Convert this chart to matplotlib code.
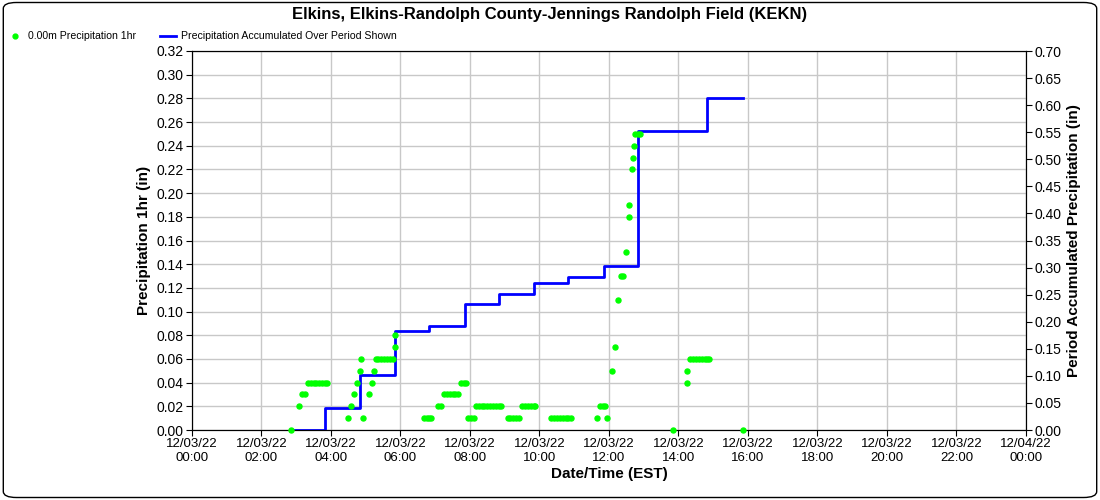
import matplotlib
matplotlib.use("Agg")
import matplotlib.pyplot as plt
from matplotlib.patches import FancyBboxPatch
from matplotlib.lines import Line2D
import numpy as np

plt.rcParams['font.family'] = ['Liberation Sans', 'DejaVu Sans']

# hourly precip observations (time of day, inches)
precip_times = ["02:51", "03:05", "03:10", "03:15",
                "03:20", "03:25", "03:30", "03:35", "03:40", "03:45", "03:50", "03:54",
                "04:30", "04:35", "04:40", "04:45", "04:50", "04:52", "04:56",
                "05:06", "05:11", "05:15",
                "05:17", "05:22", "05:27", "05:32", "05:37", "05:42", "05:47",
                "05:50", "05:51",
                "06:40", "06:45", "06:50", "06:53",
                "07:05", "07:10",
                "07:15", "07:20", "07:25", "07:30", "07:35", "07:40",
                "07:45", "07:50", "07:53",
                "07:57", "08:02", "08:07",
                "08:10", "08:15", "08:20", "08:25", "08:30", "08:35", "08:40", "08:45", "08:50", "08:54",
                "09:05", "09:10", "09:15", "09:20", "09:25",
                "09:30", "09:35", "09:40", "09:45", "09:50", "09:53",
                "10:20", "10:25", "10:30", "10:35", "10:40", "10:45", "10:50", "10:54",
                "11:40", "11:45", "11:50", "11:53", "11:56",
                "12:06", "12:11", "12:16", "12:20", "12:25", "12:30", "12:34", "12:35",
                "12:40", "12:42", "12:44", "12:45", "12:50", "12:54",
                "13:51",
                "14:15", "14:15",
                "14:20", "14:25", "14:30", "14:35", "14:40", "14:45", "14:50", "14:53",
                "15:52"]
precip_vals = [0.00, 0.02, 0.03, 0.03,
               0.04, 0.04, 0.04, 0.04, 0.04, 0.04, 0.04, 0.04,
               0.01, 0.02, 0.03, 0.04, 0.05, 0.06, 0.01,
               0.03, 0.04, 0.05,
               0.06, 0.06, 0.06, 0.06, 0.06, 0.06, 0.06,
               0.07, 0.08,
               0.01, 0.01, 0.01, 0.01,
               0.02, 0.02,
               0.03, 0.03, 0.03, 0.03, 0.03, 0.03,
               0.04, 0.04, 0.04,
               0.01, 0.01, 0.01,
               0.02, 0.02, 0.02, 0.02, 0.02, 0.02, 0.02, 0.02, 0.02, 0.02,
               0.01, 0.01, 0.01, 0.01, 0.01,
               0.02, 0.02, 0.02, 0.02, 0.02, 0.02,
               0.01, 0.01, 0.01, 0.01, 0.01, 0.01, 0.01, 0.01,
               0.01, 0.02, 0.02, 0.02, 0.01,
               0.05, 0.07, 0.11, 0.13, 0.13, 0.15, 0.18, 0.19,
               0.22, 0.23, 0.24, 0.25, 0.25, 0.25,
               0.00,
               0.04, 0.05,
               0.06, 0.06, 0.06, 0.06, 0.06, 0.06, 0.06, 0.06,
               0.00]

# accumulated precip (step changes)
accum_times = ["02:49", "03:50", "04:51", "05:50", "06:50", "07:52", "08:50",
               "09:50", "10:50", "11:52", "12:51", "14:50", "15:52"]
accum_vals = [0.00, 0.041, 0.102, 0.182, 0.192, 0.232, 0.252,
              0.272, 0.283, 0.303, 0.553, 0.614, 0.614]

tick_labels = ["12/03/22\n00:00", "12/03/22\n02:00", "12/03/22\n04:00", "12/03/22\n06:00",
               "12/03/22\n08:00", "12/03/22\n10:00", "12/03/22\n12:00", "12/03/22\n14:00",
               "12/03/22\n16:00", "12/03/22\n18:00", "12/03/22\n20:00", "12/03/22\n22:00",
               "12/04/22\n00:00"]


def to_hours(s):
    h, m = s.split(":")
    return int(h) + int(m) / 60.0


px = [to_hours(t) for t in precip_times]
ax_t = [to_hours(t) for t in accum_times]

fig = plt.figure(figsize=(11, 5), dpi=100)
ax = fig.add_axes([0.1745, 0.14, 0.7582, 0.758])
ax2 = ax.twinx()   # accumulated line, right axis
ax3 = ax.twinx()   # dots on top, same scale as left axis

ax2.plot(ax_t, accum_vals, '-', color='#0000ff', lw=2, drawstyle='steps-post')
ax3.plot(px, precip_vals, 'o', color='#00ff00', markersize=3.6, clip_on=False)

ax.set_xlim(0, 24)
ax.set_xticks(np.arange(0, 25, 2))
ax.set_xticklabels(tick_labels, fontsize=9.5)
ax.set_ylim(0, 0.32)
ax.set_yticks(np.arange(0, 0.321, 0.02))
ax.set_yticklabels(["%.2f" % v for v in np.arange(0, 0.321, 0.02)], fontsize=10)
ax3.set_ylim(0, 0.32)
ax3.set_yticks([])
ax3.axis('off')
ax2.set_ylim(0, 0.70)
ax2.set_yticks(np.arange(0, 0.701, 0.05))
ax2.set_yticklabels(["%.2f" % v for v in np.arange(0, 0.701, 0.05)], fontsize=10)

ax.grid(True, color='#c8c8c8', lw=1)
ax.set_axisbelow(True)
ax.tick_params(length=4, pad=2)
ax2.tick_params(length=4, pad=2)

ax.set_xlabel("Date/Time (EST)", fontsize=11, fontweight='bold', labelpad=2)
ax.set_ylabel("Precipitation 1hr (in)", fontsize=11, fontweight='bold')
ax2.set_ylabel("Period Accumulated Precipitation (in)", fontsize=11, fontweight='bold')

fig.text(0.5, 0.972, "Elkins, Elkins-Randolph County-Jennings Randolph Field (KEKN)",
         ha='center', va='center', fontsize=12, fontweight='bold')

handles = [Line2D([], [], marker='o', color='#00ff00', ls='none', markersize=3.5),
           Line2D([], [], color='#0000ff', lw=2)]
fig.legend(handles, ["0.00m Precipitation 1hr", "Precipitation Accumulated Over Period Shown"],
           loc='upper left', bbox_to_anchor=(0.0068, 0.9375), ncol=2, frameon=False,
           fontsize=7.6, handlelength=1.45, columnspacing=2.3, handletextpad=0.5,
           borderpad=0, borderaxespad=0)

fig.patches.append(FancyBboxPatch((0.003, 0.005), 0.994, 0.99,
                                  boxstyle="round,pad=0,rounding_size=0.012",
                                  transform=fig.transFigure, fill=False,
                                  ec='black', lw=1))

fig.savefig("out.png", dpi=100)
